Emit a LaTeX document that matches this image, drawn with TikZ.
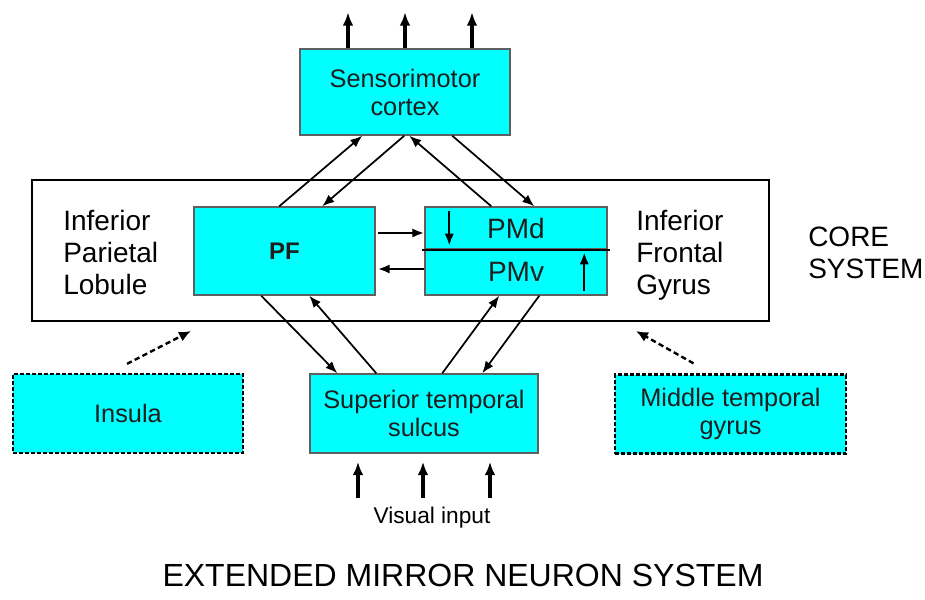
\documentclass[tikz,border=0pt]{standalone}
\usepackage{fontspec}
\setmainfont{Liberation Sans}
\usetikzlibrary{arrows.meta,calc}
\definecolor{cian}{RGB}{0,255,255}
\definecolor{borde}{RGB}{95,95,95}
\definecolor{texto}{RGB}{30,30,30}
\tikzset{
  caja/.style={draw=borde, line width=1.1pt, fill=cian, inner sep=0pt, align=center,
    text=texto, font=\fontsize{19}{21}\selectfont},
  cajapunteada/.style={caja, draw=black, line width=1.7pt, dash pattern=on 3pt off 1.5pt},
  etiqueta/.style={anchor=west, align=left, inner sep=0pt, font=\fontsize{21}{24}\selectfont},
  flecha/.style={-{Latex[length=9pt,width=7pt]}, line width=1.3pt},
  flechagruesa/.style={-{Latex[length=10pt,width=8pt]}, line width=2.6pt},
  flechapunteada/.style={-{Latex[length=9pt,width=8pt]}, line width=1.8pt, dash pattern=on 4pt off 2.5pt}
}
\begin{document}
\begin{tikzpicture}[x=0.75pt,y=-0.75pt]
  \useasboundingbox (0,0) rectangle (925,600);

  % Sistema central
  \node (core) at (400.5,250.5) [draw, line width=1.5pt, minimum width=552.75pt, minimum height=105.75pt] {};

  % Cajas principales
  \node (sm) at (405,92) [caja, minimum width=157.5pt, minimum height=64.5pt] {Sensorimotor\\cortex};
  \node (pf) at (284.5,251) [caja, minimum width=135.75pt, minimum height=66pt,
    font=\bfseries\fontsize{18}{20}\selectfont] {PF};
  \node (pmd) at (516,228) [caja, minimum width=136.5pt, minimum height=31.5pt, font=\fontsize{21}{24}\selectfont] {PMd};
  \node (pmv) at (516,272) [caja, minimum width=136.5pt, minimum height=34.5pt, font=\fontsize{21}{24}\selectfont] {PMv};
  \draw[line width=1.6pt] ($(pmd.south west)+(-2,0)$) -- ($(pmd.south east)+(2,0)$);

  % Etiquetas del sistema central
  \node (ipl) at (63,252) [etiqueta] {Inferior\\Parietal\\Lobule};
  \node (ifg) at (636,255) [etiqueta] {Inferior\\Frontal\\Gyrus};
  \node (coresys) at (808,253) [etiqueta] {CORE\\SYSTEM};

  % Cajas del sistema extendido
  \node (insula) at (128,413.5) [cajapunteada, minimum width=172.5pt, minimum height=59.25pt] {Insula};
  \node (sts) at (424,413.5) [caja, minimum width=171pt, minimum height=59.25pt] {Superior temporal\\sulcus};
  \node (mtg) at (730.5,414) [cajapunteada, minimum width=173.25pt, minimum height=59.25pt] {Middle temporal\\gyrus};

  % Textos inferiores
  \node (vis) at (432,518) [font=\fontsize{17}{20}\selectfont] {Visual input};
  \node (emns) at (463,575) [font=\fontsize{24}{28}\selectfont] {EXTENDED MIRROR NEURON SYSTEM};

  % Salidas y entradas
  \foreach \dx in {-57,0,67} {
      \draw[flechagruesa] ($(sm.north)+(\dx,0)$) -- ++(0,-36); % Salida motora
    }
  \foreach \dx in {-74,-9,58} {
      \draw[flechagruesa] ($(vis.north)+(\dx,-5)$) -- ++(0,-36); % Entrada visual
    }

  % Conexiones con la corteza sensoriomotora
  \draw[flecha] ($(pf.north west)+(86,0)$) -- ($(sm.south west)+(63,0)$);
  \draw[flecha] ($(sm.south west)+(105,0)$) -- ($(pf.north west)+(129,0)$);
  \draw[flecha] ($(pmd.north west)+(67,0)$) -- ($(sm.south west)+(110,0)$);
  \draw[flecha] ($(sm.south west)+(153,0)$) -- ($(pmd.north west)+(110,0)$);

  % Conexiones entre PF y PMd/PMv
  \draw[flecha, line width=1.8pt] ($(pf.east)+(2,-18)$) -- ($(pmd.west)+(0,5)$);
  \draw[flecha, line width=1.8pt] ($(pmv.west)+(0,-3)$) -- ($(pf.east)+(2,18)$);
  \draw[flecha, line width=1.8pt] ($(pmd.north west)+(25,5)$) -- ($(pmd.south west)+(25,-4)$);
  \draw[flecha, line width=1.8pt] ($(pmv.south west)+(160,-5)$) -- ($(pmv.north west)+(160,4)$);

  % Conexiones con el surco temporal superior
  \draw[flecha] ($(pf.south west)+(68,0)$) -- ($(sts.north west)+(28,0)$);
  \draw[flecha] ($(sts.north west)+(67,0)$) -- ($(pf.south west)+(116,0)$);
  \draw[flecha] ($(sts.north west)+(133,0)$) -- ($(pmv.south west)+(75,0)$);
  \draw[flecha] ($(pmv.south west)+(115,0)$) -- ($(sts.north west)+(173,0)$);

  % Conexiones punteadas
  \draw[flechapunteada] ($(insula.north)+(-1,-9)$) -- ($(core.south west)+(160,9)$);
  \draw[flechapunteada] ($(mtg.north)+(-37,-10)$) -- ($(core.south east)+(-134,9)$);
\end{tikzpicture}
\end{document}
